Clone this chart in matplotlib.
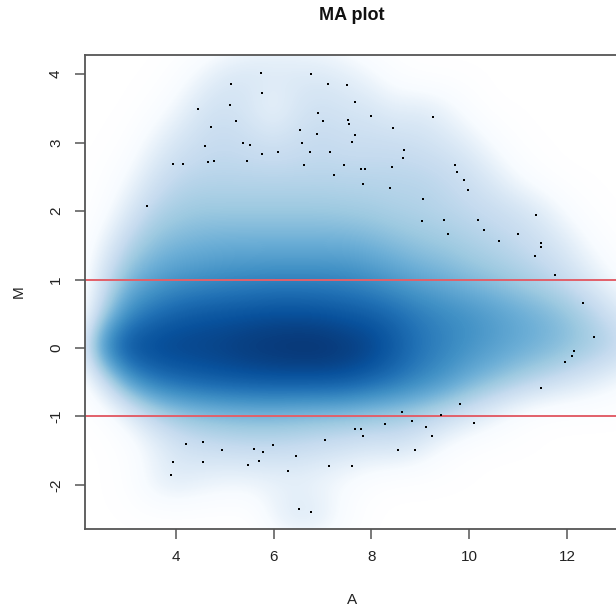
import matplotlib
matplotlib.use("Agg")
import matplotlib.pyplot as plt
from matplotlib.colors import LinearSegmentedColormap
import numpy as np

plt.rcParams['font.family'] = ['Liberation Sans', 'DejaVu Sans']
plt.rcParams['axes.unicode_minus'] = False

a_centers = [2.0, 2.5, 3.0, 3.5, 4.0, 4.5, 5.0, 5.5, 6.0, 6.5, 7.0, 7.5,
             8.0, 8.5, 9.0, 9.5, 10.0, 10.5, 11.0, 11.5, 12.0, 12.5, 13.0, 13.5]
m_centers = [4.5, 4.0, 3.5, 3.0, 2.5, 2.0, 1.5, 1.0, 0.5, 0.0,
             -0.5, -1.0, -1.5, -2.0, -2.5, -3.0]
density = [
    [0, 0, 0, 0, 0, 0, 0.4, 0.8, 1.0, 1.0, 0.8, 0.4, 0, 0, 0, 0, 0, 0, 0, 0, 0, 0, 0, 0],
    [0, 0, 0, 0, 0.4, 1.3, 2.1, 2.3, 2.2, 2.1, 2.1, 1.8, 1.2, 0.4, 0, 0, 0, 0, 0, 0, 0, 0, 0, 0],
    [0, 0, 0, 0.4, 1.3, 2.3, 2.6, 2.2, 1.4, 2.3, 2.6, 2.4, 2.3, 1.8, 2.0, 1.5, 0.6, 0, 0, 0, 0, 0, 0, 0],
    [0, 0, 0.3, 1.4, 2.3, 2.8, 3.0, 2.8, 2.6, 2.8, 3.0, 2.8, 2.8, 2.8, 2.6, 2.3, 1.8, 0.9, 0.2, 0, 0, 0, 0, 0],
    [0, 0.2, 1.0, 2.3, 3.1, 3.3, 3.3, 3.3, 3.3, 3.3, 3.3, 3.3, 3.3, 3.3, 3.3, 3.1, 2.7, 2.0, 1.0, 0.3, 0, 0, 0, 0],
    [0, 0.5, 2.0, 3.3, 3.8, 4.0, 4.0, 4.0, 4.0, 4.0, 4.0, 3.9, 3.8, 3.6, 3.5, 3.3, 3.1, 2.9, 2.6, 2.0, 0.9, 0.2, 0, 0],
    [0, 1.5, 3.3, 4.3, 4.7, 4.9, 5.0, 5.0, 5.0, 5.0, 5.0, 5.0, 4.8, 4.5, 4.2, 4.0, 3.7, 3.4, 3.1, 2.7, 2.1, 1.0, 0.3, 0],
    [0, 2.5, 4.5, 5.3, 5.8, 6.0, 6.2, 6.3, 6.4, 6.4, 6.4, 6.3, 6.0, 5.6, 5.2, 4.9, 4.5, 4.2, 3.8, 3.4, 2.8, 2.0, 1.0, 0.3],
    [0, 3.5, 6.0, 7.0, 7.5, 7.8, 7.9, 8.0, 8.1, 8.1, 8.0, 7.8, 7.6, 7.2, 6.7, 6.3, 6.0, 5.6, 5.2, 4.8, 4.3, 3.5, 2.5, 1.5],
    [1.5, 6.5, 8.2, 8.4, 8.5, 8.5, 8.6, 8.8, 8.9, 9.0, 9.0, 8.8, 8.5, 7.8, 7.0, 6.5, 6.0, 5.6, 5.2, 4.9, 4.5, 4.0, 3.5, 2.5],
    [0, 2.5, 5.5, 6.8, 7.3, 7.6, 7.8, 7.9, 8.0, 8.0, 8.0, 7.9, 7.5, 7.0, 6.4, 5.8, 5.0, 4.4, 3.8, 3.2, 2.6, 2.0, 1.3, 0.5],
    [0, 0.2, 1.5, 3.0, 3.8, 4.2, 4.4, 4.5, 4.5, 4.4, 4.3, 4.2, 4.0, 3.8, 3.5, 3.0, 2.3, 1.5, 0.6, 0.1, 0, 0, 0, 0],
    [0, 0, 0.3, 1.3, 2.2, 2.6, 2.8, 2.9, 2.9, 2.8, 2.6, 2.4, 2.2, 2.3, 1.8, 0.8, 0.2, 0, 0, 0, 0, 0, 0, 0],
    [0, 0, 0.3, 1.5, 2.0, 1.6, 1.3, 1.3, 1.4, 1.5, 1.2, 0.8, 0.3, 0, 0, 0, 0, 0, 0, 0, 0, 0, 0, 0],
    [0, 0, 0, 0, 0, 0, 0, 0, 1.5, 2.3, 2.0, 0.8, 0, 0, 0, 0, 0, 0, 0, 0, 0, 0, 0, 0],
    [0, 0, 0, 0, 0, 0, 0, 0, 0, 0, 0, 0, 0, 0, 0, 0, 0, 0, 0, 0, 0, 0, 0, 0],
]

# outlying points drawn as dots
out_a = [5.74, 6.77, 5.12, 5.76, 4.46, 5.10, 6.91, 5.23, 4.73, 6.55, 6.88, 4.59,
         5.37, 5.51, 6.58, 6.74, 6.10, 5.76, 3.95, 4.14, 4.65, 4.78, 5.46, 6.63,
         3.42, 7.11, 7.50, 7.66, 7.02, 7.52, 7.55, 7.99, 9.26, 8.44, 7.66, 7.61,
         7.16, 8.67, 8.64, 7.44, 7.78, 7.86, 7.24, 8.42, 7.83, 8.38, 9.70, 9.75,
         9.89, 9.98, 9.06, 9.03, 9.48, 10.18, 9.56, 10.31, 10.99, 10.62, 11.37,
         11.46, 11.46, 11.35, 11.76, 12.32, 12.55, 12.15, 12.10, 11.96, 11.46,
         9.81, 8.62, 9.43, 8.84, 10.09, 8.28, 7.66, 7.78, 9.11, 7.83, 9.23, 7.05,
         8.55, 8.89, 7.13, 7.61, 4.20, 4.56, 4.95, 5.60, 5.79, 5.99, 6.46, 3.95,
         4.56, 5.48, 5.71, 6.30, 3.90, 6.52, 6.77]
out_m = [4.02, 4.00, 3.85, 3.73, 3.49, 3.55, 3.43, 3.31, 3.23, 3.19, 3.12, 2.95,
         2.99, 2.97, 2.99, 2.87, 2.87, 2.83, 2.69, 2.69, 2.71, 2.73, 2.73, 2.67,
         2.07, 3.86, 3.84, 3.59, 3.31, 3.33, 3.27, 3.39, 3.37, 3.21, 3.11, 3.01,
         2.87, 2.89, 2.77, 2.67, 2.61, 2.61, 2.53, 2.65, 2.39, 2.33, 2.67, 2.57,
         2.45, 2.31, 2.17, 1.85, 1.87, 1.87, 1.67, 1.73, 1.67, 1.57, 1.95,
         1.53, 1.47, 1.35, 1.06, 0.66, 0.16, -0.04, -0.12, -0.21, -0.58,
         -0.82, -0.93, -0.98, -1.06, -1.09, -1.11, -1.18, -1.18, -1.15, -1.29, -1.29, -1.35,
         -1.49, -1.49, -1.73, -1.73, -1.40, -1.38, -1.49, -1.47, -1.52, -1.42, -1.58, -1.67,
         -1.67, -1.71, -1.65, -1.79, -1.85, -2.35, -2.39]

fold_lines = [1, -1]
x_ticks = [4, 6, 8, 10, 12]
y_ticks = [-2, -1, 0, 1, 2, 3, 4]

blues = ["#FFFFFF", "#F7FBFF", "#DEEBF7", "#C6DBEF", "#9ECAE1", "#6BAED6",
         "#4292C6", "#2171B5", "#08519C", "#08306B"]
cmap = LinearSegmentedColormap.from_list("white_blues", blues)

W, H = 616, 608
fig = plt.figure(figsize=(W / 100, H / 100), dpi=100)
left, right, top, bottom = 85.3, 619.3, 55.0, 529.4
ax = fig.add_axes([left / W, 1 - bottom / H, (right - left) / W, (bottom - top) / H])

da = (a_centers[1] - a_centers[0]) / 2
dm = (m_centers[0] - m_centers[1]) / 2
ax.imshow(np.array(density), cmap=cmap, vmin=0, vmax=9, origin='upper',
          extent=[a_centers[0] - da, a_centers[-1] + da, m_centers[-1] - dm, m_centers[0] + dm],
          aspect='auto', interpolation='bicubic', zorder=1)

ax.plot(out_a, out_m, ls='none', marker='s', ms=1.7, mew=0, color='black', zorder=3)

for m in fold_lines:
    ax.axhline(m, color='#e2606a', lw=1.4, zorder=2)

ax.set_xlim(2.15, 13.07)
ax.set_ylim(-2.65, 4.28)
ax.set_xticks(x_ticks)
ax.set_yticks(y_ticks)
ax.tick_params(direction='out', length=7, width=1.1, color='#555555',
               labelsize=11, labelcolor='#222222')
ax.tick_params(axis='x', pad=8)
ax.tick_params(axis='y', pad=9)
for lab in ax.get_yticklabels():
    lab.set_rotation(90)
    lab.set_va('center')
for s in ['left', 'bottom', 'top']:
    ax.spines[s].set_color('#555555')
    ax.spines[s].set_linewidth(1.3)
ax.spines['right'].set_visible(False)

fig.text(352 / W, 1 - 15 / H, 'MA plot', ha='center', va='center',
         fontsize=13, fontweight='bold', color='#111111')
fig.text(352 / W, 1 - 600 / H, 'A', ha='center', va='center', fontsize=11, color='#222222')
fig.text(19 / W, 1 - 292 / H, 'M', ha='center', va='center', rotation=90,
         fontsize=11, color='#222222')

fig.savefig('out.png', dpi=100)
